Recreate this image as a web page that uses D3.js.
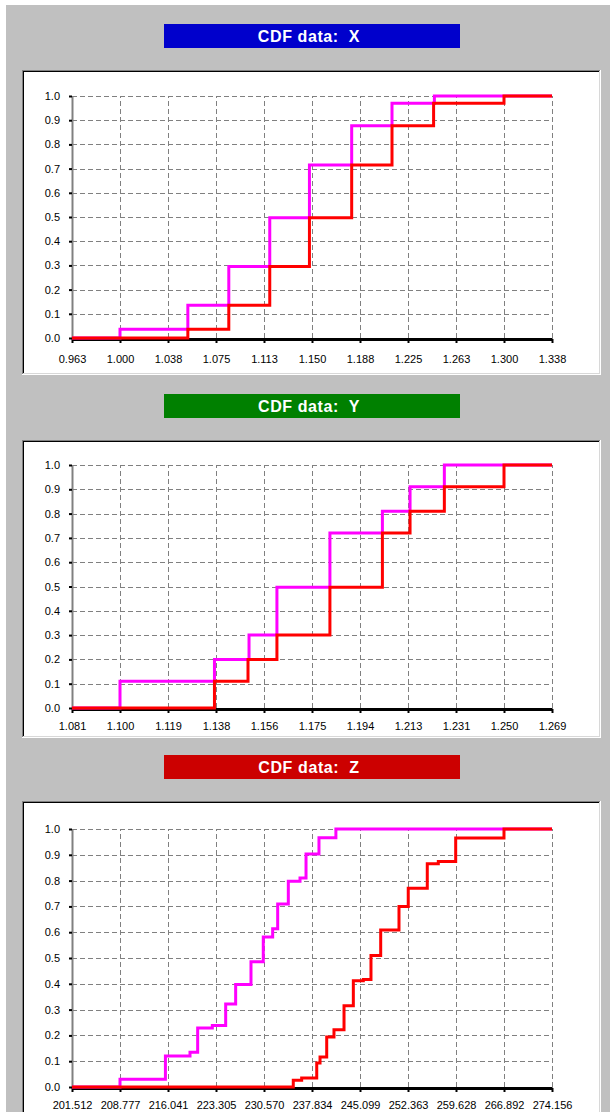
<!DOCTYPE html>
<html>
<head>
<meta charset="utf-8">
<script src="https://cdn.jsdelivr.net/npm/d3@7"></script>
<style>
  body { margin: 0; background: #fff; }
  svg { display: block; font-family: "Liberation Sans", Arial, sans-serif; }
</style>
</head>
<body>
<svg id="chart"></svg>
<script>
// probability ticks shared by the three plots
const probTicks = [0, 0.1, 0.2, 0.3, 0.4, 0.5, 0.6, 0.7, 0.8, 0.9, 1.0];

// X
const xLabels = ["0.963", "1.000", "1.038", "1.075", "1.113", "1.150", "1.188", "1.225", "1.263", "1.300", "1.338"];
const xDomain = [0.9625, 1.3375];
const xMagentaAt = [0.9625, 1.000, 1.053, 1.085, 1.117, 1.148, 1.181, 1.2125, 1.2456, 1.3375];
const xMagentaP = [0, 0.036, 0.135, 0.295, 0.497, 0.715, 0.877, 0.97, 1.0, 1.0];
const xRedAt = [0.9625, 1.053, 1.085, 1.117, 1.148, 1.181, 1.2125, 1.245, 1.300, 1.3375];
const xRedP = [0, 0.036, 0.135, 0.295, 0.497, 0.715, 0.877, 0.97, 1.0, 1.0];

// Y
const yLabels = ["1.081", "1.100", "1.119", "1.138", "1.156", "1.175", "1.194", "1.213", "1.231", "1.250", "1.269"];
const yDomain = [1.08125, 1.26875];
const yMagentaAt = [1.08125, 1.100, 1.1369, 1.1504, 1.1613, 1.182, 1.2025, 1.2133, 1.2267, 1.26875];
const yMagentaP = [0, 0.11, 0.2, 0.3, 0.497, 0.72, 0.81, 0.91, 1.0, 1.0];
const yRedAt = [1.08125, 1.1369, 1.150, 1.1613, 1.182, 1.2025, 1.2133, 1.2267, 1.250, 1.26875];
const yRedP = [0, 0.11, 0.2, 0.3, 0.497, 0.72, 0.81, 0.91, 1.0, 1.0];

// Z
const zLabels = ["201.512", "208.777", "216.041", "223.305", "230.570", "237.834", "245.099", "252.363", "259.628", "266.892", "274.156"];
const zDomain = [201.512, 274.156];
const zMagentaAt = [201.512, 208.777, 215.65, 219.37, 220.53, 222.75, 224.77, 226.28, 228.60, 230.46, 231.88, 232.64, 234.25, 236.02, 236.93, 238.89, 241.45, 274.156];
const zMagentaP = [0, 0.03, 0.12, 0.135, 0.229, 0.238, 0.322, 0.397, 0.485, 0.581, 0.613, 0.709, 0.797, 0.81, 0.903, 0.966, 1.0, 1.0];
const zRedAt = [201.512, 235.00, 236.27, 238.55, 239.05, 240.06, 241.16, 242.68, 244.09, 245.60, 246.76, 248.23, 251.00, 252.40, 255.28, 256.95, 259.58, 266.89, 274.156];
const zRedP = [0, 0.026, 0.035, 0.093, 0.116, 0.194, 0.222, 0.315, 0.412, 0.417, 0.51, 0.609, 0.70, 0.77, 0.865, 0.874, 0.965, 1.0, 1.0];

const width = 610;
const height = 1112;
const left = 72;
const right = 552;

const svg = d3.select("#chart").attr("width", width).attr("height", height);

// grey window background
svg.append("rect")
  .attr("x", 6).attr("y", 5)
  .attr("width", width - 6).attr("height", height - 5)
  .attr("fill", "#c0c0c0");

const panels = [
  { name: "X", color: "#0000cc", top: 70, bottom: 375, plotTop: 96, plotBottom: 338, pad: 12,
    labels: xLabels, domain: xDomain, magenta: d3.zip(xMagentaAt, xMagentaP), red: d3.zip(xRedAt, xRedP) },
  { name: "Y", color: "#008000", top: 440, bottom: 738, plotTop: 465, plotBottom: 708, pad: 9,
    labels: yLabels, domain: yDomain, magenta: d3.zip(yMagentaAt, yMagentaP), red: d3.zip(yRedAt, yRedP) },
  { name: "Z", color: "#cc0000", top: 801, bottom: 1130, plotTop: 829, plotBottom: 1087, pad: 9,
    labels: zLabels, domain: zDomain, magenta: d3.zip(zMagentaAt, zMagentaP), red: d3.zip(zRedAt, zRedP) },
];

function drawPanel(p) {
  const g = svg.append("g");

  // title bar
  const barY = p.top - 46;
  g.append("rect")
    .attr("x", 164).attr("y", barY)
    .attr("width", 296).attr("height", 24)
    .attr("fill", p.color);
  g.append("text")
    .attr("x", 309).attr("y", barY + 12)
    .attr("text-anchor", "middle")
    .attr("dominant-baseline", "central")
    .attr("fill", "#fff")
    .style("font-size", "16px")
    .style("font-weight", "bold")
    .style("letter-spacing", "0.6px")
    .style("white-space", "pre")
    .text(`CDF data:  ${p.name}`);

  // sunken white frame
  g.append("rect")
    .attr("x", 22).attr("y", p.top)
    .attr("width", 601 - 22).attr("height", p.bottom - p.top)
    .attr("fill", "#fff");
  const edge = (x1, y1, x2, y2, c) => g.append("line")
    .attr("x1", x1).attr("y1", y1).attr("x2", x2).attr("y2", y2)
    .attr("stroke", c).attr("stroke-width", 1);
  edge(22, p.top + 0.5, 601, p.top + 0.5, "#808080");
  edge(22.5, p.top, 22.5, p.bottom, "#808080");
  edge(23, p.top + 1.5, 600, p.top + 1.5, "#000");
  edge(23.5, p.top + 1, 23.5, p.bottom - 1, "#000");
  edge(22, p.bottom - 0.5, 601, p.bottom - 0.5, "#ffffff");
  edge(600.5, p.top, 600.5, p.bottom, "#ffffff");
  edge(23, p.bottom - 1.5, 600, p.bottom - 1.5, "#d8d8d8");
  edge(599.5, p.top + 1, 599.5, p.bottom - 1, "#d8d8d8");

  const x = d3.scaleLinear().domain(p.domain).range([left, right]);
  const y = d3.scaleLinear().domain([0, 1]).range([p.plotBottom, p.plotTop]);
  const xTicks = p.labels.map((_, i) => p.domain[0] + (i * (p.domain[1] - p.domain[0])) / 10);

  // dashed grid
  g.append("g")
    .selectAll("line")
    .data(probTicks.slice(1))
    .join("line")
    .attr("x1", left).attr("x2", right)
    .attr("y1", (d) => Math.round(y(d)) + 0.5)
    .attr("y2", (d) => Math.round(y(d)) + 0.5)
    .attr("stroke", "#808080")
    .attr("stroke-dasharray", "5,3");
  g.append("g")
    .selectAll("line")
    .data(xTicks.slice(1))
    .join("line")
    .attr("x1", (d) => Math.round(x(d)) + 0.5)
    .attr("x2", (d) => Math.round(x(d)) + 0.5)
    .attr("y1", y(0)).attr("y2", y(1))
    .attr("stroke", "#808080")
    .attr("stroke-dasharray", "5,3");

  // y axis
  const gy = g.append("g")
    .attr("transform", `translate(${left},0)`)
    .call(d3.axisLeft(y).tickValues(probTicks).tickFormat(d3.format(".1f"))
      .tickSize(3).tickPadding(9).tickSizeOuter(0));
  gy.select(".domain").attr("stroke", "#808080").attr("stroke-width", 2);
  gy.selectAll(".tick line").attr("stroke", "#000").attr("stroke-width", 2);
  gy.selectAll(".tick text").attr("fill", "#000").style("font-size", "11px").style("font-family", null);

  // x axis
  const gx = g.append("g")
    .attr("transform", `translate(0,${p.plotBottom + 1})`)
    .call(d3.axisBottom(x).tickValues(xTicks).tickFormat((d, i) => p.labels[i])
      .tickSize(4).tickPadding(p.pad).tickSizeOuter(0));
  gx.select(".domain").attr("stroke", "#000").attr("stroke-width", 3);
  gx.selectAll(".tick line").attr("stroke", "#000").attr("stroke-width", 2);
  gx.selectAll(".tick text").attr("fill", "#000").style("font-size", "11px").style("font-family", null);

  // step curves, red drawn last
  const line = d3.line()
    .x((d) => x(d[0]))
    .y((d) => y(d[1]))
    .curve(d3.curveStepAfter);
  g.append("path")
    .datum(p.magenta)
    .attr("d", line)
    .attr("fill", "none")
    .attr("stroke", "#ff00ff")
    .attr("stroke-width", 3);
  g.append("path")
    .datum(p.red)
    .attr("d", line)
    .attr("fill", "none")
    .attr("stroke", "#ff0000")
    .attr("stroke-width", 3);
}

panels.forEach(drawPanel);
</script>
</body>
</html>
